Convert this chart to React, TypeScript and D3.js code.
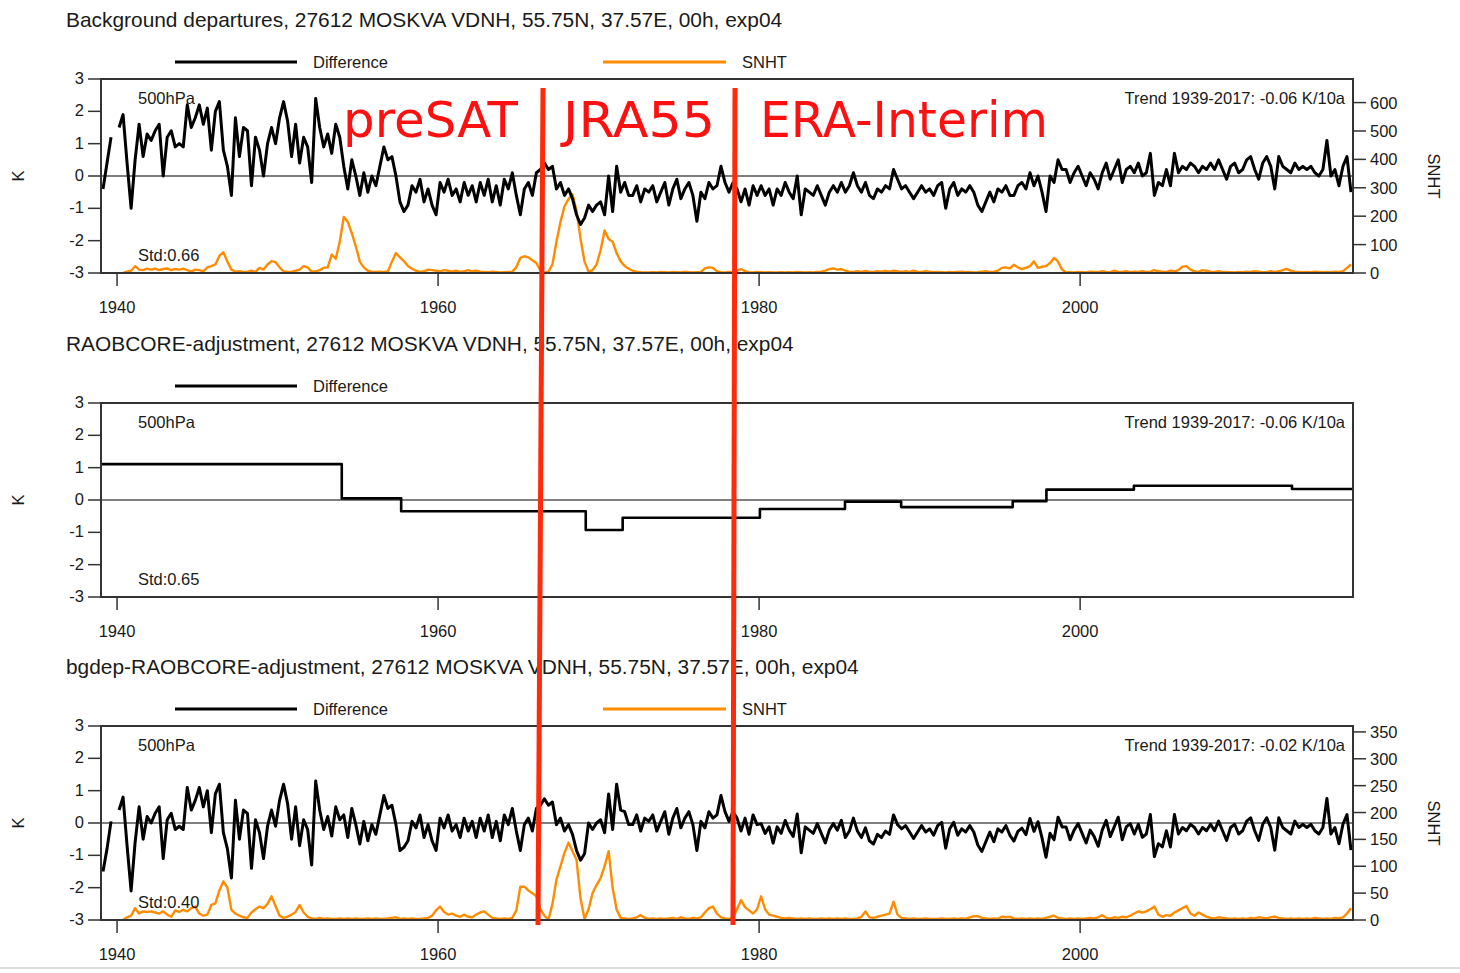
import React from 'react';
import * as d3 from 'd3';

// ---------- data ----------
const YEAR_START = 1939;
const YEAR_END = 2017;
const STEPS_PER_YEAR = 4; // quarterly values, 1939 Q1 .. 2016 Q4

const xTickYears = [1940, 1960, 1980, 2000];
const kTicks = [-3, -2, -1, 0, 1, 2, 3];
const snhtTicksTop = [0, 100, 200, 300, 400, 500, 600];
const snhtTicksBottom = [0, 50, 100, 150, 200, 250, 300, 350];

// Background departures (K), quarterly
const bgdep: (number | null)[] = [
  -0.4, 0.4, 1.2, null, 1.5, 1.9, 0.4, -1.0, 0.5, 1.6, 0.6, 1.3, 1.1, 1.4, 1.6, 0.0,
  1.2, 1.4, 0.9, 1.0, 0.9, 2.2, 1.5, 1.8, 2.2, 1.6, 2.1, 0.8, 2.0, 2.3, 0.8, 0.3,
  -0.6, 1.8, 0.6, 1.5, 1.4, -0.3, 1.2, 0.8, 0.0, 1.0, 1.5, 1.0, 1.8, 2.3, 1.7, 0.6,
  1.6, 0.4, 1.2, 0.9, -0.2, 2.4, 1.5, 0.9, 1.3, 0.7, 1.6, 1.2, 0.3, -0.4, 0.5, 0.0,
  -0.6, 0.1, -0.5, 0.0, -0.3, 0.3, 0.9, 0.5, 0.6, 0.0, -0.8, -1.1, -0.9, -0.3, -0.5, -0.1,
  -0.8, -0.4, -0.9, -1.2, -0.2, -0.5, -0.1, -0.6, -0.4, -0.8, -0.2, -0.6, -0.3, -0.8, -0.2, -0.6,
  -0.1, -0.8, -0.3, -0.9, -0.1, -0.4, 0.1, -0.6, -1.2, -0.4, -0.2, -0.6, 0.1, 0.2, 0.4, 0.2,
  0.3, -0.4, -0.2, -0.6, -0.4, -0.7, -1.2, -1.5, -1.3, -0.9, -1.1, -0.9, -0.8, -1.2, 0.0, -1.1,
  0.3, -0.5, -0.2, -0.6, -0.6, -0.3, -0.8, -0.4, -0.5, -0.3, -0.8, -0.5, -0.2, -0.9, -0.4, -0.1,
  -0.7, -0.4, -0.2, -0.6, -1.4, -0.5, -0.7, -0.2, -0.4, -0.3, 0.3, -0.2, -0.5, -0.2, -0.4, -0.8,
  -0.4, -0.9, -0.3, -0.6, -0.3, -0.6, -0.4, -0.9, -0.4, -0.6, -0.2, -0.5, -0.7, 0.0, -1.2, -0.4,
  -0.5, -0.6, -0.3, -0.6, -0.9, -0.5, -0.3, -0.5, -0.2, -0.5, -0.3, 0.1, -0.3, -0.5, -0.2, -0.6,
  -0.7, -0.4, -0.5, -0.3, -0.4, 0.2, -0.1, -0.4, -0.3, -0.5, -0.7, -0.5, -0.3, -0.5, -0.4, -0.6,
  -0.3, -0.2, -1.0, -0.4, -0.2, -0.6, -0.4, -0.5, -0.3, -0.5, -0.9, -1.1, -0.8, -0.5, -0.8, -0.4,
  -0.5, -0.3, -0.6, -0.6, -0.3, -0.2, -0.4, 0.1, -0.3, 0.0, -0.5, -1.1, 0.0, -0.2, 0.5, 0.2,
  0.2, -0.2, 0.1, 0.3, 0.0, -0.3, 0.1, -0.1, -0.4, 0.1, 0.4, -0.1, 0.2, 0.5, -0.2, 0.2,
  0.3, 0.1, 0.4, 0.0, 0.1, 0.7, -0.6, -0.2, -0.3, 0.2, -0.3, 0.7, 0.1, 0.3, 0.2, 0.4,
  0.3, 0.1, 0.3, 0.2, 0.4, 0.2, 0.5, 0.2, -0.1, 0.3, 0.4, 0.1, 0.2, 0.5, 0.6, 0.2,
  -0.1, 0.4, 0.6, 0.3, -0.4, 0.6, 0.3, 0.2, 0.1, 0.4, 0.2, 0.3, 0.2, 0.3, 0.1, 0.0,
  0.2, 1.1, 0.0, 0.2, -0.3, 0.3, 0.6, -0.5,
];

// SNHT statistic for background departures, quarterly
const bgdepSnht: (number | null)[] = [
  null, null, null, null, null, 0, 5, 8, 24, 12, 10, 15, 12, 15, 10, 14,
  16, 10, 14, 12, 15, 10, 5, 12, 10, 6, 20, 24, 30, 60, 73, 40,
  12, 5, 6, 4, 5, 8, 4, 18, 12, 30, 42, 38, 20, 6, 4, 5,
  8, 12, 24, 20, 5, 6, 10, 18, 20, 65, 50, 110, 197, 180, 140, 94,
  40, 20, 8, 5, 4, 5, 3, 6, 40, 70, 55, 42, 25, 15, 8, 4,
  6, 12, 10, 8, 6, 10, 8, 5, 8, 4, 6, 10, 6, 8, 5, 4,
  3, 5, 4, 2, 3, 4, 5, 20, 53, 59, 55, 45, 35, 10, 0, 5,
  30, 110, 180, 235, 260, 277, 220, 120, 40, 5, 10, 30, 80, 150, 120, 110,
  70, 41, 25, 15, 8, 5, 3, 2, 2, 3, 2, 4, 3, 2, 4, 3,
  2, 5, 3, 2, 3, 4, 16, 20, 18, 6, 3, 2, 4, 3, 8, 14,
  6, 3, 2, 4, 3, 2, 3, 2, 2, 3, 2, 3, 2, 4, 3, 2,
  3, 2, 4, 5, 8, 14, 16, 12, 14, 8, 5, 4, 6, 4, 7, 5,
  4, 6, 5, 7, 5, 8, 6, 4, 6, 4, 8, 5, 4, 6, 5, 3,
  4, 3, 2, 4, 3, 4, 5, 3, 4, 2, 3, 5, 6, 4, 5, 8,
  18, 20, 16, 29, 20, 14, 18, 24, 41, 18, 22, 24, 35, 53, 40, 12,
  2, 3, 2, 4, 3, 2, 5, 4, 3, 6, 4, 3, 8, 5, 4, 6,
  3, 5, 4, 6, 4, 5, 10, 6, 5, 4, 8, 6, 10, 22, 24, 12,
  6, 4, 10, 8, 5, 4, 6, 3, 4, 3, 2, 4, 3, 5, 4, 6,
  5, 3, 4, 6, 4, 6, 10, 14, 8, 5, 4, 3, 4, 3, 5, 4,
  3, 4, 3, 5, 4, 6, 18, 30,
];

// RAOBCORE adjustment: step levels (K) and the year each level starts
const adjStartYears = [1939.0, 1954.0, 1957.7, 1969.2, 1971.5, 1980.05, 1985.35, 1988.85, 1995.8, 1997.9, 2003.35, 2013.2];
const adjValues = [1.11, 0.05, -0.35, -0.93, -0.55, -0.28, -0.05, -0.22, -0.04, 0.32, 0.44, 0.34];

// bgdep - RAOBCORE adjustment (K), quarterly
const bgdepMinusAdj: (number | null)[] = [
  -1.5, -0.8, 0.05, null, 0.4, 0.8, -0.7, -2.1, -0.6, 0.5, -0.5, 0.2, 0.0, 0.3, 0.5, -1.1,
  0.1, 0.3, -0.2, -0.1, -0.2, 1.1, 0.4, 0.7, 1.1, 0.5, 1.0, -0.3, 0.9, 1.2, -0.3, -0.8,
  -1.7, 0.7, -0.5, 0.4, 0.3, -1.4, 0.1, -0.3, -1.1, -0.1, 0.4, -0.1, 0.7, 1.2, 0.6, -0.5,
  0.5, -0.7, 0.1, -0.2, -1.3, 1.3, 0.4, -0.2, 0.2, -0.4, 0.5, 0.1, 0.25, -0.45, 0.45, -0.05,
  -0.65, 0.05, -0.55, -0.05, -0.35, 0.25, 0.85, 0.45, 0.55, -0.05, -0.85, -0.75, -0.55, 0.05, -0.15, 0.25,
  -0.45, -0.05, -0.55, -0.85, 0.15, -0.15, 0.25, -0.25, -0.05, -0.45, 0.15, -0.25, 0.05, -0.45, 0.15, -0.25,
  0.25, -0.45, 0.05, -0.55, 0.25, -0.05, 0.45, -0.25, -0.85, -0.05, 0.15, -0.25, 0.45, 0.55, 0.75, 0.55,
  0.65, -0.05, 0.15, -0.25, -0.05, -0.35, -0.85, -1.15, -0.95, 0.0, -0.2, 0.0, 0.1, -0.3, 0.9, -0.2,
  1.2, 0.4, 0.35, -0.05, -0.05, 0.25, -0.25, 0.15, 0.05, 0.25, -0.25, 0.05, 0.35, -0.35, 0.15, 0.45,
  -0.15, 0.15, 0.35, -0.05, -0.85, 0.05, -0.15, 0.35, 0.15, 0.25, 0.85, 0.35, 0.05, 0.35, 0.15, -0.25,
  0.15, -0.35, 0.25, -0.05, -0.02, -0.32, -0.12, -0.62, -0.12, -0.32, 0.08, -0.22, -0.42, 0.28, -0.92, -0.12,
  -0.22, -0.32, -0.02, -0.32, -0.62, -0.22, -0.02, -0.22, 0.08, -0.45, -0.25, 0.15, -0.25, -0.45, -0.15, -0.55,
  -0.65, -0.35, -0.45, -0.25, -0.35, 0.25, -0.05, -0.18, -0.08, -0.28, -0.48, -0.28, -0.08, -0.28, -0.18, -0.38,
  -0.08, 0.02, -0.78, -0.18, 0.02, -0.38, -0.18, -0.28, -0.08, -0.28, -0.68, -0.88, -0.58, -0.28, -0.58, -0.18,
  -0.28, -0.08, -0.38, -0.56, -0.26, -0.16, -0.36, 0.14, -0.26, 0.04, -0.46, -1.06, -0.32, -0.52, 0.18, -0.12,
  -0.12, -0.52, -0.22, -0.02, -0.32, -0.62, -0.22, -0.42, -0.72, -0.22, 0.08, -0.42, -0.12, 0.18, -0.52, -0.12,
  -0.02, -0.34, -0.04, -0.44, -0.34, 0.26, -1.04, -0.64, -0.74, -0.24, -0.74, 0.26, -0.34, -0.14, -0.24, -0.04,
  -0.14, -0.34, -0.14, -0.24, -0.04, -0.24, 0.06, -0.24, -0.54, -0.14, -0.04, -0.34, -0.24, 0.06, 0.16, -0.24,
  -0.54, -0.04, 0.16, -0.14, -0.84, 0.16, -0.14, -0.24, -0.34, 0.06, -0.14, -0.04, -0.14, -0.04, -0.24, -0.34,
  -0.14, 0.76, -0.34, -0.14, -0.64, -0.04, 0.26, -0.84,
];

// SNHT statistic for bgdep - adjustment, quarterly
const bgdepMinusAdjSnht: (number | null)[] = [
  null, null, null, null, null, 0, 5, 8, 22, 12, 16, 15, 16, 14, 12, 16,
  10, 6, 18, 15, 19, 16, 22, 25, 12, 8, 10, 28, 31, 55, 72, 60,
  19, 12, 8, 5, 4, 14, 20, 25, 22, 30, 44, 26, 8, 4, 6, 10,
  15, 28, 14, 6, 3, 2, 4, 2, 3, 2, 2, 3, 2, 3, 2, 3,
  2, 2, 3, 2, 3, 2, 2, 3, 4, 5, 2, 3, 2, 3, 2, 2,
  3, 4, 8, 18, 25, 15, 10, 12, 8, 6, 10, 6, 5, 10, 14, 16,
  10, 4, 3, 2, 3, 2, 4, 18, 62, 62, 55, 50, 44, 20, 8, 0,
  30, 75, 100, 125, 144, 128, 112, 40, 2, 20, 50, 65, 78, 100, 128, 60,
  19, 4, 3, 2, 3, 5, 9, 4, 2, 3, 2, 3, 2, 3, 4, 2,
  5, 3, 2, 4, 3, 5, 14, 22, 25, 12, 5, 3, 2, 4, 20, 37,
  24, 18, 12, 20, 44, 20, 10, 8, 6, 4, 3, 4, 3, 2, 3, 2,
  3, 2, 2, 3, 2, 3, 2, 3, 2, 3, 2, 2, 3, 6, 16, 5,
  4, 6, 8, 10, 12, 34, 10, 4, 3, 2, 3, 2, 2, 3, 2, 2,
  2, 3, 2, 2, 3, 2, 3, 2, 5, 7, 7, 4, 3, 2, 3, 2,
  6, 5, 6, 3, 2, 3, 2, 3, 2, 3, 2, 4, 6, 8, 4, 3,
  2, 3, 2, 3, 2, 3, 4, 3, 5, 9, 4, 3, 5, 4, 6, 5,
  8, 12, 16, 14, 16, 20, 25, 10, 6, 9, 8, 14, 18, 22, 26, 12,
  8, 14, 10, 6, 4, 3, 5, 4, 3, 2, 3, 2, 3, 2, 4, 3,
  5, 4, 3, 5, 6, 4, 3, 2, 3, 2, 3, 2, 3, 2, 4, 3,
  2, 3, 2, 4, 3, 5, 12, 22,
];

const panelTitles = [
  'Background departures, 27612 MOSKVA VDNH, 55.75N, 37.57E, 00h, exp04',
  'RAOBCORE-adjustment, 27612 MOSKVA VDNH, 55.75N, 37.57E, 00h, exp04',
  'bgdep-RAOBCORE-adjustment, 27612 MOSKVA VDNH, 55.75N, 37.57E, 00h, exp04',
];
const stdLabels = ['Std:0.66', 'Std:0.65', 'Std:0.40'];
const trendLabels = [
  'Trend 1939-2017: -0.06 K/10a',
  'Trend 1939-2017: -0.06 K/10a',
  'Trend 1939-2017: -0.02 K/10a',
];
const levelLabel = '500hPa';
const reanalysisLabels = ['preSAT', 'JRA55', 'ERA-Interim'];

// ---------- layout ----------
const W = 1460;
const H = 973;
const PL = 101;
const PR = 1353;
const FONT = "'Liberation Sans', Arial, Helvetica, sans-serif";
const TXT = '#1a1a1a';
const FRAME = '#333';
const ORANGE = '#ff8c00';
const FS = 16.5;

const x = d3.scaleLinear().domain([YEAR_START, YEAR_END]).range([PL, PR]);
const tOf = (i: number) => YEAR_START + (i + 0.5) / STEPS_PER_YEAR;

type PanelProps = {
  top: number;
  bottom: number;
  idx: number;
  diff: (number | null)[] | null;
  step: boolean;
  snht: (number | null)[] | null;
  snhtMax: number;
  snhtTicks: number[];
};

function Panel({ top, bottom, idx, diff, step, snht, snhtMax, snhtTicks }: PanelProps) {
  const y = d3.scaleLinear().domain([-3, 3]).range([bottom, top]);
  const ys = d3.scaleLinear().domain([0, snhtMax]).range([bottom, top]);
  const mid = (top + bottom) / 2;

  const qLine = d3
    .line<number | null>()
    .defined((d) => d != null)
    .x((_, i) => x(tOf(i)))
    .y((d) => y(d as number));
  const sLine = d3
    .line<number | null>()
    .defined((d) => d != null)
    .x((_, i) => x(tOf(i)))
    .y((d) => ys(d as number));

  let diffPath = '';
  if (step) {
    const pts: [number, number][] = adjStartYears.map((yr, i) => [yr, adjValues[i]]);
    pts.push([YEAR_END, adjValues[adjValues.length - 1]]);
    diffPath =
      d3
        .line<[number, number]>()
        .x((d) => x(d[0]))
        .y((d) => y(d[1]))
        .curve(d3.curveStepAfter)(pts) || '';
  } else if (diff) {
    diffPath = qLine(diff) || '';
  }

  const titleY = top - 52;
  const legendY = top - 17;

  return (
    <g>
      <text x={66} y={titleY} fontSize={20.9} fill={TXT} fontFamily={FONT}>
        {panelTitles[idx]}
      </text>
      <line x1={175} x2={297} y1={legendY} y2={legendY} stroke="#000" strokeWidth={3} />
      <text x={313} y={legendY + 6} fontSize={FS} fill={TXT} fontFamily={FONT}>
        Difference
      </text>
      {snht && (
        <>
          <line x1={603} x2={726} y1={legendY} y2={legendY} stroke={ORANGE} strokeWidth={3} />
          <text x={742} y={legendY + 6} fontSize={FS} fill={TXT} fontFamily={FONT}>
            SNHT
          </text>
        </>
      )}

      {/* zero line */}
      <line x1={PL} x2={PR} y1={y(0)} y2={y(0)} stroke="#555" strokeWidth={1.3} />

      {snht && (
        <path d={sLine(snht) || ''} fill="none" stroke={ORANGE} strokeWidth={2.4} strokeLinejoin="round" />
      )}
      <path d={diffPath} fill="none" stroke="#000" strokeWidth={step ? 2.6 : 3} strokeLinejoin="round" />

      {/* frame */}
      <rect x={PL} y={top} width={PR - PL} height={bottom - top} fill="none" stroke={FRAME} strokeWidth={2} />

      {/* left axis */}
      {kTicks.map((t) => (
        <g key={'k' + t}>
          <line x1={PL - 13} x2={PL} y1={y(t)} y2={y(t)} stroke={FRAME} strokeWidth={1.5} />
          <text x={84} y={y(t) + 5} fontSize={FS} textAnchor="end" fill={TXT} fontFamily={FONT}>
            {t}
          </text>
        </g>
      ))}
      <text
        x={0}
        y={0}
        transform={`translate(24,${mid}) rotate(-90)`}
        fontSize={FS}
        textAnchor="middle"
        fill={TXT}
        fontFamily={FONT}
      >
        K
      </text>

      {/* bottom axis */}
      {xTickYears.map((t) => (
        <g key={'x' + t}>
          <line x1={x(t)} x2={x(t)} y1={bottom} y2={bottom + 13} stroke={FRAME} strokeWidth={1.5} />
          <text x={x(t)} y={bottom + 40} fontSize={FS} textAnchor="middle" fill={TXT} fontFamily={FONT}>
            {t}
          </text>
        </g>
      ))}

      {/* right axis */}
      {snht && (
        <>
          {snhtTicks.map((t) => (
            <g key={'s' + t}>
              <line x1={PR} x2={PR + 13} y1={ys(t)} y2={ys(t)} stroke={FRAME} strokeWidth={1.5} />
              <text x={1370} y={ys(t) + 6} fontSize={FS} fill={TXT} fontFamily={FONT}>
                {t}
              </text>
            </g>
          ))}
          <text
            x={0}
            y={0}
            transform={`translate(1428,${mid}) rotate(90)`}
            fontSize={FS}
            textAnchor="middle"
            fill={TXT}
            fontFamily={FONT}
          >
            SNHT
          </text>
        </>
      )}

      {/* annotations */}
      <text x={138} y={top + 25} fontSize={FS} fill={TXT} fontFamily={FONT}>
        {levelLabel}
      </text>
      <text x={138} y={bottom - 12} fontSize={FS} fill={TXT} fontFamily={FONT}>
        {stdLabels[idx]}
      </text>
      <text x={1345} y={top + 25} fontSize={FS} textAnchor="end" fill={TXT} fontFamily={FONT}>
        {trendLabels[idx]}
      </text>
    </g>
  );
}

export default function App() {
  const RED_LINE = '#ff2a0a';
  const RED_TXT = '#ff1010';
  const RFONT = "'DejaVu Sans', 'Comic Sans MS', sans-serif";
  return (
    <svg
      width={W}
      height={H}
      viewBox={`0 0 ${W} ${H}`}
      style={{ position: 'absolute', left: 0, top: 0, background: '#fff' }}
    >
      <rect x={0} y={0} width={W} height={H} fill="#fff" />
      <Panel top={79} bottom={273} idx={0} diff={bgdep} step={false} snht={bgdepSnht} snhtMax={683} snhtTicks={snhtTicksTop} />
      <Panel top={403} bottom={597} idx={1} diff={null} step={true} snht={null} snhtMax={1} snhtTicks={[]} />
      <Panel
        top={726}
        bottom={920}
        idx={2}
        diff={bgdepMinusAdj}
        step={false}
        snht={bgdepMinusAdjSnht}
        snhtMax={361}
        snhtTicks={snhtTicksBottom}
      />

      {/* red annotations */}
      <line x1={543} y1={88} x2={538} y2={925} stroke={RED_LINE} strokeWidth={5} />
      <line x1={735} y1={88} x2={733} y2={925} stroke={RED_LINE} strokeWidth={5} />
      <text x={343} y={137} fontSize={50} fill={RED_TXT} fontFamily={RFONT} textLength={175} lengthAdjust="spacingAndGlyphs">
        {reanalysisLabels[0]}
      </text>
      <text x={563} y={137} fontSize={50} fill={RED_TXT} fontFamily={RFONT} textLength={152} lengthAdjust="spacingAndGlyphs">
        {reanalysisLabels[1]}
      </text>
      <text x={760} y={137} fontSize={50} fill={RED_TXT} fontFamily={RFONT} textLength={288} lengthAdjust="spacingAndGlyphs">
        {reanalysisLabels[2]}
      </text>

      <line x1={0} x2={W} y1={968} y2={968} stroke="#bbb" strokeWidth={1} />
    </svg>
  );
}
